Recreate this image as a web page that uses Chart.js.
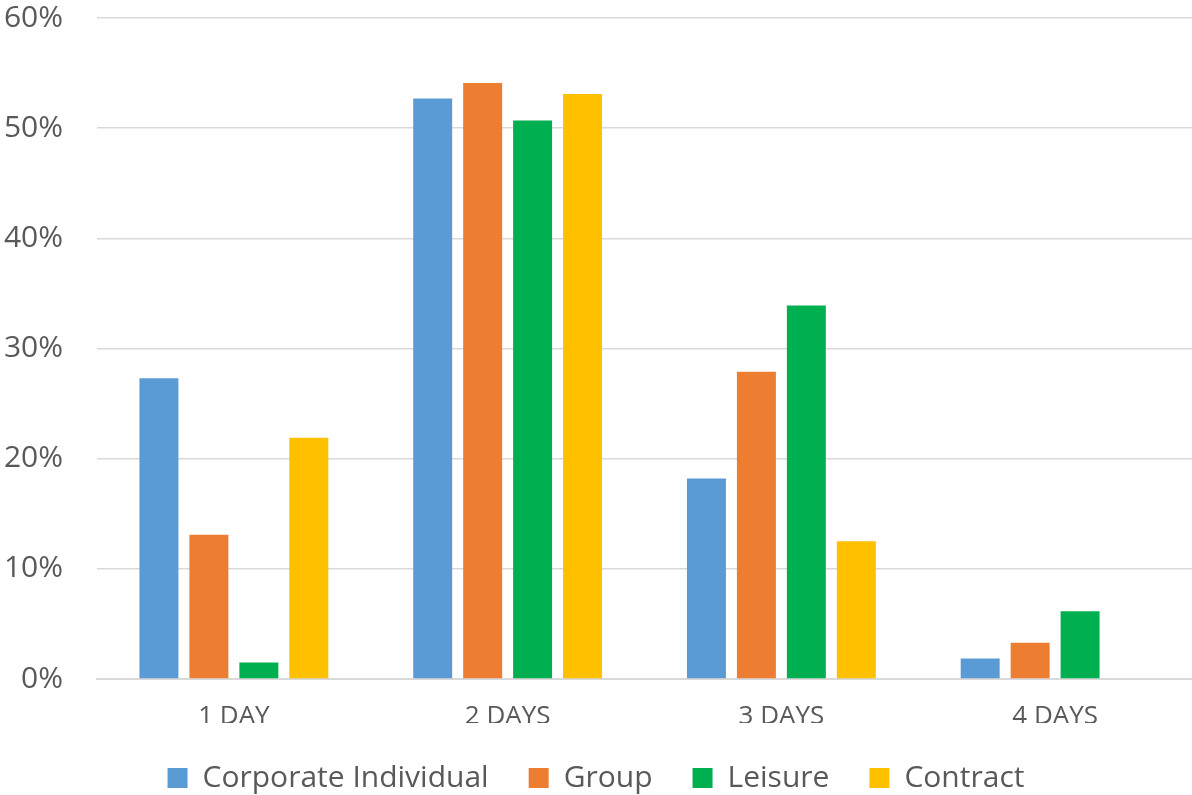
<!DOCTYPE html>
<html>
<head>
<meta charset="utf-8">
<script src="https://cdn.jsdelivr.net/npm/chart.js@4/dist/chart.umd.min.js"></script>
<style>
  html, body { margin: 0; padding: 0; background: #fff; }
  #wrap { width: 1192px; height: 795px; }
</style>
</head>
<body>
<div id="wrap"><canvas id="myChart" width="1192" height="795"></canvas></div>
<script>
const categories = ['1 DAY', '2 DAYS', '3 DAYS', '4 DAYS'];
const corporateIndividual = [27.3, 52.7, 18.2, 1.85];
const group = [13.1, 54.1, 27.9, 3.3];
const leisure = [1.5, 50.7, 33.9, 6.15];
const contract = [21.9, 53.1, 12.5, null];
const yTicks = [0, 10, 20, 30, 40, 50, 60];

const txt = '#595959';
const font = "'Open Sans', 'Liberation Sans', sans-serif";

const ctx = document.getElementById('myChart');
const myChart = new Chart(ctx, {
  type: 'bar',
  data: {
    labels: categories,
    datasets: [
      { label: 'Corporate Individual', data: corporateIndividual, backgroundColor: '#5B9BD5' },
      { label: 'Group', data: group, backgroundColor: '#ED7D31' },
      { label: 'Leisure', data: leisure, backgroundColor: '#00B050' },
      { label: 'Contract', data: contract, backgroundColor: '#FFC000' }
    ]
  },
  options: {
    responsive: false,
    animation: false,
    datasets: { bar: { categoryPercentage: 0.73, barPercentage: 0.78 } },
    layout: { padding: { top: 18, right: 0, bottom: -8, left: 0 } },
    scales: {
      x: {
        afterFit: s => { s.height = 44; },
        grid: { display: false, drawTicks: false },
        border: { color: '#D9D9D9', width: 2 },
        ticks: { color: txt, font: { family: font, size: 26 }, padding: 22 }
      },
      y: {
        min: 0,
        max: 60,
        afterBuildTicks: s => { s.ticks = yTicks.map(v => ({ value: v })); },
        afterFit: s => { s.width = 97; s.paddingTop = 0; s.paddingBottom = 0; },
        grid: { color: '#D9D9D9', lineWidth: 1.5, drawTicks: false },
        border: { display: false },
        ticks: {
          color: txt,
          font: { family: font, size: 30 },
          padding: 34,
          callback: v => v + '%'
        }
      }
    },
    plugins: {
      tooltip: { enabled: false },
      legend: {
        position: 'bottom',
        labels: {
          color: txt,
          font: { family: font, size: 30 },
          boxWidth: 20,
          boxHeight: 20,
          padding: 40
        }
      }
    }
  }
});
</script>
</body>
</html>
